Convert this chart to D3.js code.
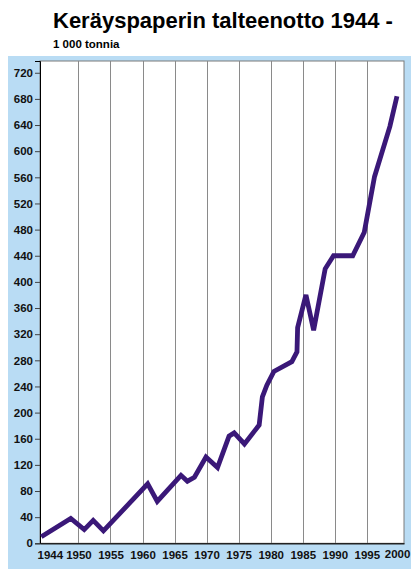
<!DOCTYPE html>
<html>
<head>
<meta charset="utf-8">
<script src="https://cdn.jsdelivr.net/npm/d3@7"></script>
<style>
  html, body { margin: 0; padding: 0; background: #fff; }
  svg { display: block; font-family: "Liberation Sans", Arial, Helvetica, sans-serif; }
  .axis text { font-size: 11.5px; font-weight: bold; fill: #111; }
  .grid line { stroke: #8a8a8a; shape-rendering: crispEdges; }
</style>
</head>
<body>
<div id="chart"></div>
<script>
// Keräyspaperin talteenotto, 1 000 tonnia
const years = [1944.2, 1948.8, 1950.9, 1952.3, 1953.9, 1960.8, 1962.3, 1966.0, 1967.0, 1968.1,
  1969.9, 1971.7, 1973.5, 1974.3, 1975.9, 1978.2, 1978.7, 1979.4, 1980.5, 1983.3,
  1984.1, 1984.2, 1985.5, 1986.7, 1988.5, 1989.8, 1992.8, 1994.6, 1996.2, 1998.6, 1999.7]
const tonnes = [10, 38, 21, 35, 19, 91, 64, 104, 95, 101,
  132, 116, 164, 169, 152, 181, 224, 242, 263, 278,
  293, 330, 380, 326, 420, 440, 440, 476, 561, 638, 684]

const xTickYears = [1944, 1950, 1955, 1960, 1965, 1970, 1975, 1980, 1985, 1990, 1995, 2000]
const gridYears = [1950, 1955, 1960, 1965, 1970, 1975, 1980, 1985, 1990, 1995]
const yTicks = d3.range(0, 721, 40)

const title = 'Keräyspaperin talteenotto 1944 -'
const subtitle = '1 000 tonnia'

const width = 411
const height = 569
const plot = { left: 40, right: 404, top: 61, bottom: 543.3 }

const data = years.map((y, i) => [y, tonnes[i]])

const x = d3.scaleLinear()
  .domain([1944, 2000.8])
  .range([plot.left, plot.right])

const y = d3.scaleLinear()
  .domain([0, 738])
  .range([plot.bottom, plot.top])

const svg = d3.select('#chart')
  .append('svg')
  .attr('width', width)
  .attr('height', height)

// light blue panel behind the chart
svg.append('rect')
  .attr('x', 8)
  .attr('y', 56)
  .attr('width', width - 8)
  .attr('height', height - 56)
  .attr('fill', '#b9dcf4')

svg.append('rect')
  .attr('x', plot.left)
  .attr('y', plot.top)
  .attr('width', plot.right - plot.left)
  .attr('height', plot.bottom - plot.top)
  .attr('fill', '#fff')
  .attr('stroke', '#7a7a7a')
  .attr('stroke-width', 1)

svg.append('text')
  .attr('x', 53)
  .attr('y', 28)
  .attr('font-size', 22)
  .attr('font-weight', 'bold')
  .attr('fill', '#000')
  .text(title)

svg.append('text')
  .attr('x', 53)
  .attr('y', 48)
  .attr('font-size', 11.5)
  .attr('font-weight', 'bold')
  .attr('fill', '#000')
  .text(subtitle)

// vertical gridlines every 5 years
svg.append('g')
  .attr('class', 'grid')
  .selectAll('line')
  .data(gridYears)
  .join('line')
  .attr('x1', d => Math.round(x(d)) + 0.5)
  .attr('x2', d => Math.round(x(d)) + 0.5)
  .attr('y1', plot.top)
  .attr('y2', plot.bottom)

const yAxis = d3.axisLeft(y)
  .tickValues(yTicks)
  .tickSize(5)
  .tickPadding(2)
  .tickFormat(d3.format('d'))

svg.append('g')
  .attr('class', 'axis axis--y')
  .attr('transform', `translate(${plot.left}, 0)`)
  .call(yAxis)
  .call(g => g.select('.domain').attr('stroke', '#000'))
  .call(g => g.selectAll('.tick line').attr('stroke', '#444'))

const xAxis = d3.axisBottom(x)
  .tickValues(xTickYears)
  .tickSize(0)
  .tickPadding(8)
  .tickFormat(d3.format('d'))

svg.append('g')
  .attr('class', 'axis axis--x')
  .attr('transform', `translate(0, ${plot.bottom})`)
  .call(xAxis)
  .call(g => g.select('.domain').attr('stroke', '#222').attr('stroke-width', 1.5))
  .call(g => g.selectAll('.tick text')
    .attr('text-anchor', d => d === 1944 ? 'start' : d === 2000 ? 'end' : 'middle')
    .attr('dx', d => d === 1944 ? -3 : d === 2000 ? 11 : 0)
    .attr('dy', d => d === 2000 ? '0.55em' : '0.71em'))

const line = d3.line()
  .x(d => x(d[0]))
  .y(d => y(d[1]))

svg.append('path')
  .datum(data)
  .attr('fill', 'none')
  .attr('stroke', '#3a1878')
  .attr('stroke-width', 4.8)
  .attr('stroke-linejoin', 'miter')
  .attr('d', line)
</script>
</body>
</html>
